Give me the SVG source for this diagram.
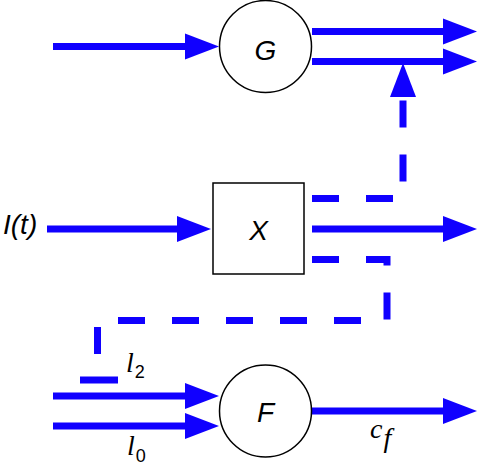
<svg xmlns="http://www.w3.org/2000/svg" width="480" height="465" viewBox="0 0 480 465">
<defs>
<marker id="ah" markerUnits="userSpaceOnUse" markerWidth="34" markerHeight="26" refX="0" refY="13" orient="auto" overflow="visible">
<path d="M0,0 L34,13 L0,26 Z" fill="#1000ff"/>
</marker>
<style>
.w{stroke:#1000ff;stroke-width:7;fill:none}
.d{stroke-dasharray:27 27}
.node{fill:#fff;stroke:#000;stroke-width:1.5}
.lab{font-family:"Liberation Sans",Arial,sans-serif;font-style:italic;font-size:28px;fill:#000}
.m{font-family:"Liberation Serif","Times New Roman",serif;font-style:italic;font-size:28px;fill:#000}
.sub{font-family:"Liberation Sans",Arial,sans-serif;font-size:18px;fill:#000}
</style>
</defs>
<g id="connectors">
<line class="w" x1="53" y1="46.5" x2="185" y2="46.5" marker-end="url(#ah)"/>
<line class="w" x1="312" y1="31.5" x2="443" y2="31.5" marker-end="url(#ah)"/>
<line class="w" x1="312" y1="61.5" x2="443" y2="61.5" marker-end="url(#ah)"/>
<line class="w" x1="47" y1="229" x2="177" y2="229" marker-end="url(#ah)"/>
<line class="w" x1="312" y1="229" x2="443" y2="229" marker-end="url(#ah)"/>
<path class="w d" d="M312,198.5 H403 V97" marker-end="url(#ah)"/>
<path class="w d" d="M312,259.5 H387 V320.5 H97.5 V381"/>
<line class="w" x1="80" y1="380" x2="118" y2="380"/>
<line class="w" x1="53" y1="396" x2="185" y2="396" marker-end="url(#ah)"/>
<line class="w" x1="53" y1="426" x2="185" y2="426" marker-end="url(#ah)"/>
<line class="w" x1="312" y1="411" x2="443" y2="411" marker-end="url(#ah)"/>
</g>
<g id="G">
<circle class="node" cx="265.5" cy="46.5" r="46"/>
<text class="lab" x="265.5" y="60" text-anchor="middle">G</text>
</g>
<g id="X">
<rect class="node" x="213" y="183" width="91" height="91"/>
<text class="lab" x="258.5" y="240" text-anchor="middle">X</text>
</g>
<g id="F">
<circle class="node" cx="265.5" cy="411" r="46"/>
<text class="lab" x="265.5" y="421.5" text-anchor="middle">F</text>
</g>
<g id="labels">
<text class="lab" x="3" y="234" font-size="26">I(t)</text>
<text x="126" y="372"><tspan class="m">l</tspan><tspan class="sub" dx="1" dy="6">2</tspan></text>
<text x="127" y="455"><tspan class="m">l</tspan><tspan class="sub" dx="1" dy="7">0</tspan></text>
<text x="370" y="438"><tspan class="m" font-size="24">c</tspan><tspan class="m" dx="1" dy="9" font-size="26">f</tspan></text>
</g>
</svg>
